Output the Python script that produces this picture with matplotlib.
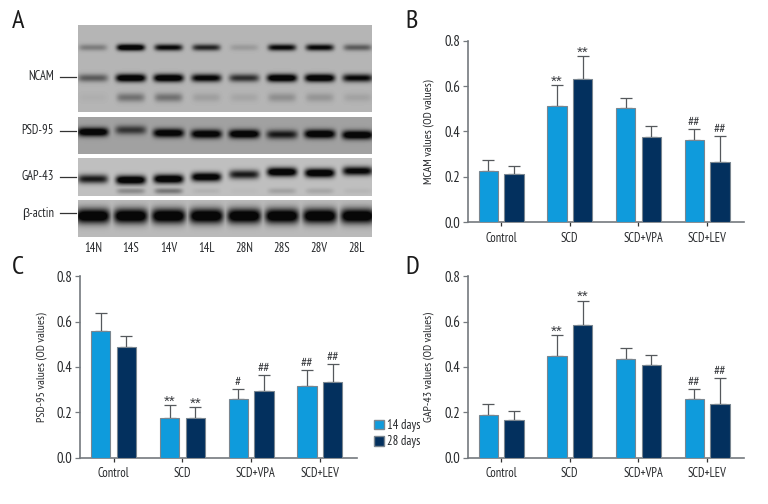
#!/usr/bin/env python3
"""Western blot panel and three OD bar charts."""
import matplotlib
matplotlib.use('Agg')
import matplotlib.pyplot as plt
from matplotlib import font_manager
from matplotlib.patches import Patch
from matplotlib.transforms import ScaledTranslation
import numpy as np

names = {f.name for f in font_manager.fontManager.ttflist}
families = [f for f in ['PT Sans Narrow', 'Asap Condensed', 'Archivo Narrow'] if f in names][:1]
plt.rcParams['font.family'] = families + ['Liberation Sans', 'DejaVu Sans']
plt.rcParams['font.size'] = 9

W, H = 768, 504
LIGHT = '#0F9BDC'
DARK = '#03305E'
AXIS_GRAY = '#74797E'
TEXT = '#26282B'

# ---- bar data
GROUPS = ["Control", "SCD", "SCD+VPA", "SCD+LEV"]
YTICKS = [0.0, 0.2, 0.4, 0.6, 0.8]

b_14 = [0.224, 0.512, 0.503, 0.362]
b_28 = [0.210, 0.632, 0.375, 0.263]
b_14_top = [0.272, 0.603, 0.549, 0.412]
b_28_top = [0.247, 0.731, 0.422, 0.379]
b_14_mark = ["", "**", "", "##"]
b_28_mark = ["", "**", "", "##"]

c_14 = [0.560, 0.176, 0.260, 0.316]
c_28 = [0.490, 0.174, 0.296, 0.332]
c_14_top = [0.637, 0.231, 0.301, 0.388]
c_28_top = [0.535, 0.222, 0.366, 0.412]
c_14_mark = ["", "**", "#", "##"]
c_28_mark = ["", "**", "##", "##"]

d_14 = [0.187, 0.447, 0.437, 0.257]
d_28 = [0.168, 0.587, 0.409, 0.238]
d_14_top = [0.237, 0.540, 0.482, 0.301]
d_28_top = [0.204, 0.693, 0.454, 0.350]
d_14_mark = ["", "**", "", "##"]
d_28_mark = ["", "**", "", "##"]

# ---- blot data: per lane band darkness (0-1) and band height in picture pixels
LANES = ["14N", "14S", "14V", "14L", "28N", "28S", "28V", "28L"]
ncam_top = [0.25, 1.0, 0.8, 0.65, 0.12, 0.8, 0.8, 0.4]
ncam_mid = [0.4, 1.0, 1.0, 0.85, 0.6, 1.0, 1.0, 0.8]
ncam_low = [0.03, 0.3, 0.3, 0.1, 0.07, 0.17, 0.14, 0.08]
psd95 = [1.0, 0.55, 0.95, 0.95, 1.0, 0.7, 1.0, 1.0]
psd95_y = [132, 130, 133, 134, 134, 134.5, 134, 135]
gap43 = [0.7, 1.0, 1.0, 0.95, 0.7, 1.0, 1.0, 0.85]
gap43_y = [179, 180, 179, 177, 174.5, 172, 173, 171]
gap43_low = [0.0, 0.22, 0.3, 0.05, 0.02, 0.12, 0.1, 0.04]
actin = [1.0, 1.0, 1.0, 1.0, 1.0, 1.0, 1.0, 1.0]


def axes_px(fig, x0, y0, x1, y1):
    # rectangle in picture pixels, y counted from the top
    return fig.add_axes([x0 / W, 1 - y1 / H, (x1 - x0) / W, (y1 - y0) / H])


def blot(fig, y0, y1, bands, bg):
    x0, x1 = 78, 372
    ax = axes_px(fig, x0, y0, x1, y1)
    xx, yy = np.meshgrid(np.arange(x0, x1) + 0.5, np.arange(y0, y1) + 0.5)
    dark = np.zeros_like(xx, dtype=float)
    centers = x0 + 15 + np.arange(8) * 37.8
    for values, yc, half_w, half_h in bands:
        ycs = np.broadcast_to(yc, (8,))
        for c, v, y in zip(centers, values, ycs):
            along = np.exp(-np.abs((xx - c) / half_w) ** 6)
            across = np.exp(-((yy - y) / half_h) ** 2)
            dark = np.maximum(dark, v * along * across)
    img = bg * (1 - np.clip(dark * 1.3, 0, 1)) + 0.03
    ax.imshow(img, cmap='gray', vmin=0, vmax=1, aspect='auto', interpolation='bilinear')
    ax.axis('off')


def label_blot(fig, text, y):
    fig.text(54 / W, 1 - y / H, text, ha='right', va='center', color=TEXT, fontsize=9)
    fig.add_artist(plt.Line2D([60 / W, 76 / W], [1 - y / H, 1 - y / H], color='#333333', lw=0.9))


def bars(fig, rect, vals14, vals28, top14, top28, mark14, mark28, ylabel, ylabel_x):
    ax = axes_px(fig, *rect)
    x = np.arange(len(GROUPS))
    offset = 0.187
    width = 0.281
    for xs, vals, tops, marks, col in [(x - offset, vals14, top14, mark14, LIGHT),
                                       (x + offset, vals28, top28, mark28, DARK)]:
        vals = np.array(vals)
        tops = np.array(tops)
        ax.errorbar(xs, vals, yerr=[np.zeros(4), tops - vals], fmt='none', ecolor='#55585C',
                    elinewidth=0.9, capsize=4.2, capthick=0.9, zorder=2)
        ax.bar(xs, vals, width, color=col, edgecolor='#7A8690', linewidth=0.8, zorder=3)
        for xi, t, m in zip(xs, tops, marks):
            if m == "**":
                # the narrow face has tiny asterisks
                ax.annotate(m, (xi, t), xytext=(0, -2.5), textcoords='offset points', ha='center',
                            va='bottom', fontsize=11, color='#3A3C40', family='Liberation Sans')
            elif m:
                ax.annotate(m, (xi, t), xytext=(0, 0), textcoords='offset points',
                            ha='center', va='bottom', fontsize=10, color='#3A3C40')
    ax.set_xlim(-0.485, 3.537)
    ax.set_ylim(0, 0.8)
    ax.set_xticks(x)
    ax.set_xticklabels(GROUPS, fontsize=9, color=TEXT)
    ax.set_yticks(YTICKS)
    ax.set_yticklabels([f"{v:.1f}" for v in YTICKS], fontsize=10.5, color=TEXT)
    ax.tick_params(axis='x', length=3, width=0.9, color='#333333', pad=4)
    ax.tick_params(axis='y', length=3.5, width=0.9, color=AXIS_GRAY, pad=2)
    # the SCD+VPA label sits a little right of its tick
    shift = ScaledTranslation(3.5 / 72, 0, fig.dpi_scale_trans)
    lab = ax.get_xticklabels()[2]
    lab.set_transform(lab.get_transform() + shift)
    for side in ['top', 'right']:
        ax.spines[side].set_visible(False)
    for side in ['left', 'bottom']:
        ax.spines[side].set_color(AXIS_GRAY)
        ax.spines[side].set_linewidth(1.2)
    fig.text(ylabel_x / W, 1 - (rect[1] + rect[3]) / 2 / H, ylabel, rotation=90,
             ha='center', va='center', fontsize=8.6, color=TEXT)
    return ax


fig = plt.figure(figsize=(W / 100, H / 100), dpi=100)

# panel A
blot(fig, 25, 112, [(ncam_top, 47.5, 14, 3.3), (ncam_mid, 78, 15, 4.0), (ncam_low, 97.5, 14, 4.5)], 0.68)
blot(fig, 117, 154, [(psd95, psd95_y, 15.5, 4.5)], 0.60)
blot(fig, 158, 196, [(gap43, gap43_y, 15, 4.5), (gap43_low, 191, 14, 3.0)], 0.72)
blot(fig, 200, 237, [(actin, 216, 17, 7.5)], 0.70)
label_blot(fig, "NCAM", 77)
label_blot(fig, "PSD-95", 131)
label_blot(fig, "GAP-43", 177)
label_blot(fig, "β-actin", 213)
for i, lane in enumerate(LANES):
    fig.text((93 + i * 37.7) / W, 1 - 248 / H, lane, ha='center', va='center', fontsize=9, color=TEXT)

# panels B, C, D
bars(fig, (467.7, 40.7, 744, 222), b_14, b_28, b_14_top, b_28_top, b_14_mark, b_28_mark,
     "MCAM values (OD values)", 429)
ax_c = bars(fig, (80.3, 276.3, 356.7, 457.7), c_14, c_28, c_14_top, c_28_top, c_14_mark, c_28_mark,
            "PSD-95 values (OD values)", 42)
bars(fig, (467.7, 276.3, 744, 457.7), d_14, d_28, d_14_top, d_28_top, d_14_mark, d_28_mark,
     "GAP-43 values (OD values)", 429)

handles = [Patch(facecolor=LIGHT, edgecolor='#7A8690', label="14 days"),
           Patch(facecolor=DARK, edgecolor='#7A8690', label="28 days")]
fig.legend(handles=handles, loc='center left', bbox_to_anchor=(374 / W, 1 - 433.5 / H), frameon=False,
           fontsize=9, handlelength=0.8, handleheight=0.8, handletextpad=0.25, labelspacing=0.25,
           borderpad=0, borderaxespad=0, labelcolor=TEXT)

for letter, px, py in [("A", 18, 21), ("B", 412, 21), ("C", 18, 268), ("D", 412, 268)]:
    fig.text(px / W, 1 - py / H, letter, ha='center', va='center', fontsize=19, color='#1A1A1A')

fig.savefig("out.png", dpi=100)
